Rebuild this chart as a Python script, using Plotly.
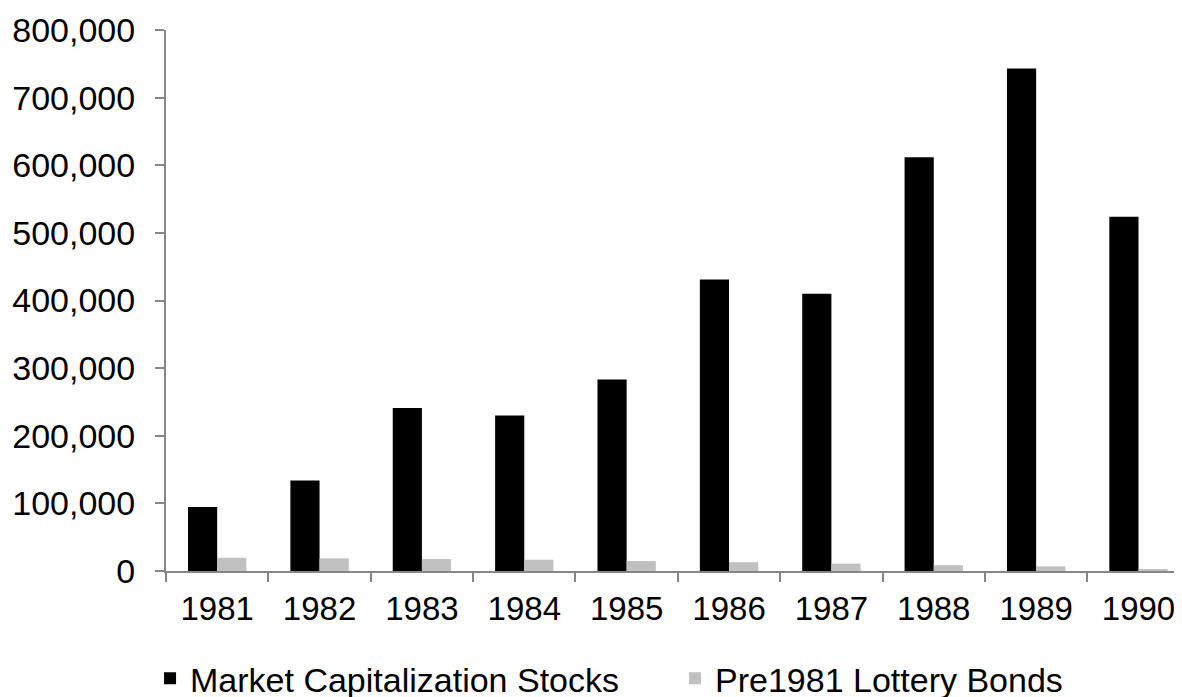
import plotly.graph_objects as go

# Dados
anos = ['1981', '1982', '1983', '1984', '1985', '1986', '1987', '1988', '1989', '1990']
market_cap = [94500, 134000, 241000, 230000, 283000, 431000, 410000, 612000, 743000, 524000]
lottery_bonds = [19600, 18700, 17700, 16700, 14800, 13000, 10800, 8600, 6900, 2500]

FONTE = 'Liberation Sans, Arial, sans-serif'
CINZA_EIXO = '#868686'

fig = go.Figure()
fig.add_trace(go.Bar(
    x=anos, y=market_cap, name='Market Capitalization Stocks',
    marker=dict(color='#000000', line=dict(width=0))
))
fig.add_trace(go.Bar(
    x=anos, y=lottery_bonds, name='Pre1981 Lottery Bonds',
    marker=dict(color='#C0C0C0', line=dict(width=0))
))

# a página tem margem de 8px no body, por isso a figura é um pouco menor
fig.update_layout(
    width=1174, height=689,
    margin=dict(l=158, r=0, t=22, b=126, autoexpand=False),
    plot_bgcolor='white', paper_bgcolor='white',
    barmode='group', bargap=0.43, bargroupgap=0,
    font=dict(family=FONTE, size=33, color='black'),
    showlegend=True,
    legend=dict(
        orientation='h', x=-0.0157, xanchor='left', y=-0.199, yanchor='middle',
        entrywidth=480, entrywidthmode='pixels',
        font=dict(size=34), traceorder='normal'
    ),
    xaxis=dict(
        type='category', range=[-0.5, 9.425],
        showline=True, linecolor=CINZA_EIXO, linewidth=2,
        ticks='outside', tickson='boundaries', ticklen=9, tickwidth=2, tickcolor=CINZA_EIXO,
        showgrid=False, zeroline=False, ticklabelstandoff=7,
        tickfont=dict(size=33)
    ),
    yaxis=dict(
        range=[0, 800000], dtick=100000, tickformat=',',
        showline=True, linecolor=CINZA_EIXO, linewidth=2,
        ticks='outside', ticklen=9, tickwidth=2, tickcolor=CINZA_EIXO,
        showgrid=False, zeroline=False, ticklabelstandoff=13,
        tickfont=dict(size=34)
    )
)

fig.write_html('out.html')
